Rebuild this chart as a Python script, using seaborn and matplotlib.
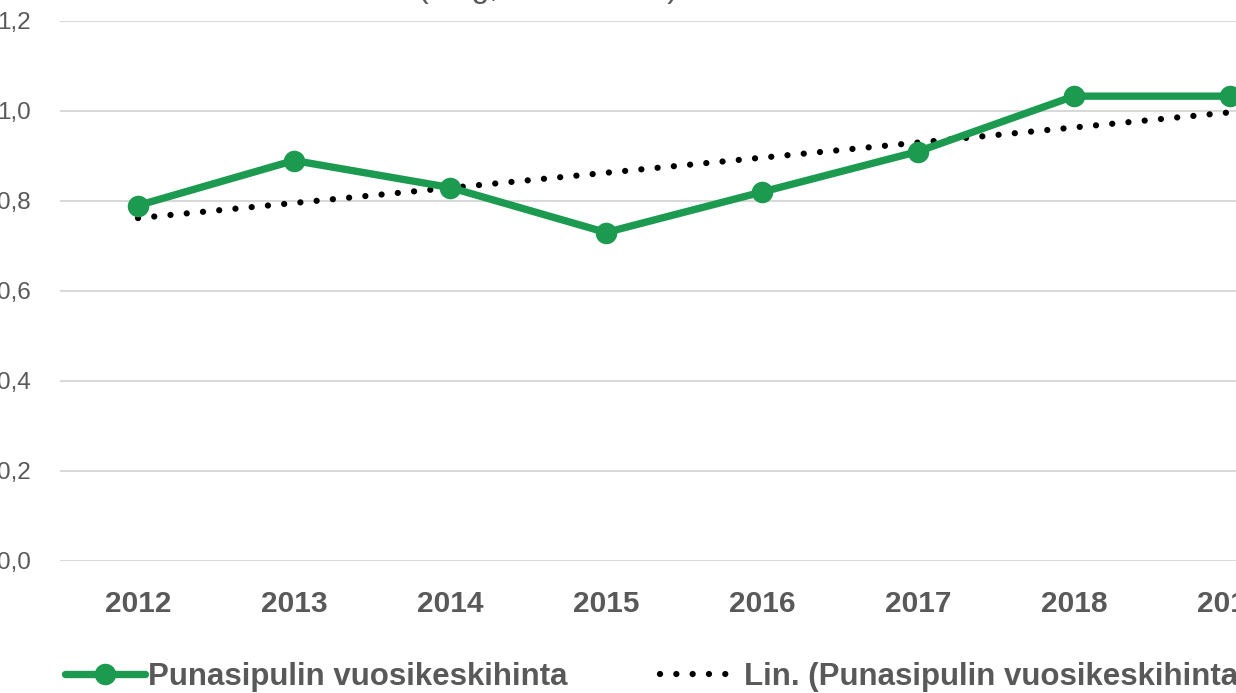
import matplotlib
matplotlib.use("Agg")
import matplotlib.pyplot as plt
import pandas as pd
import seaborn as sns

# data
years = [2012, 2013, 2014, 2015, 2016, 2017, 2018, 2019]
prices = [0.79, 0.89, 0.83, 0.73, 0.82, 0.91, 1.033, 1.033]
trend_years = [2012, 2019]
trend_values = [0.762, 0.997]
y_ticks = [0.0, 0.2, 0.4, 0.6, 0.8, 1.0, 1.2]
y_tick_labels = ["0,0", "0,2", "0,4", "0,6", "0,8", "1,0", "1,2"]
series_label = "Punasipulin vuosikeskihinta"
trend_label = "Lin. (Punasipulin vuosikeskihinta)"
title_tail = "(€/kg, 2012–2019)"

GREEN = "#1c9a50"
TEXT = "#595959"
GRID = "#d9d9d9"

sns.set_style("white")
plt.rcParams["font.family"] = ["Liberation Sans", "DejaVu Sans"]

df = pd.DataFrame({"year": years, "price": prices})
trend = pd.DataFrame({"year": trend_years, "price": trend_values})

W, H = 1236, 693
fig = plt.figure(figsize=(W / 100, H / 100), dpi=100)
# plot area runs off the right edge, as in the cropped reference
ax = fig.add_axes([60 / W, 132 / H, 1248 / W, 540 / H])

sns.lineplot(data=trend, x="year", y="price", ax=ax, color="black",
             linewidth=4.5, linestyle=(0, (0.01, 2.6)),
             dash_capstyle="round", label=trend_label, legend=False)
sns.lineplot(data=df, x="year", y="price", ax=ax, color=GREEN,
             linewidth=5.3, marker="o", markersize=15.5, markeredgewidth=0,
             label=series_label, legend=False)

ax.set_xlim(2011.5, 2019.5)
ax.set_ylim(0, 1.2)
ax.set_yticks(y_ticks)
ax.set_yticklabels(y_tick_labels)
ax.set_xticks(years)
ax.set_xticklabels([str(y) for y in years])
ax.set_xlabel("")
ax.set_ylabel("")

for s in ax.spines.values():
    s.set_visible(False)
ax.yaxis.grid(True, color=GRID, linewidth=1.5)
ax.set_axisbelow(True)
ax.tick_params(axis="y", length=0, pad=21, labelsize=17.5, labelcolor=TEXT)
ax.tick_params(axis="x", length=0, pad=21, labelsize=21.5, labelcolor=TEXT)
for t in ax.get_xticklabels():
    t.set_fontweight("bold")

# title sits almost entirely above the crop
fig.text(418 / W, (H + 3) / H, title_tail, ha="left", va="baseline",
         fontsize=23, color=TEXT)

lines = ax.get_lines()
green_line = [l for l in lines if l.get_label() == series_label]
trend_line = [l for l in lines if l.get_label() == trend_label]

leg_y = 1 - 677 / H
fig.legend(handles=green_line, loc="center left",
           bbox_to_anchor=(65 / W, leg_y), frameon=False, borderpad=0,
           borderaxespad=0, handlelength=2.55, handletextpad=0.1,
           labelcolor=TEXT, prop={"weight": "bold", "size": 22.5})
fig.legend(handles=trend_line, loc="center left",
           bbox_to_anchor=(660 / W, leg_y), frameon=False, borderpad=0,
           borderaxespad=0, handlelength=2.3, handletextpad=0.4,
           labelcolor=TEXT, prop={"weight": "bold", "size": 22.5})

fig.savefig("out.png", dpi=100)
